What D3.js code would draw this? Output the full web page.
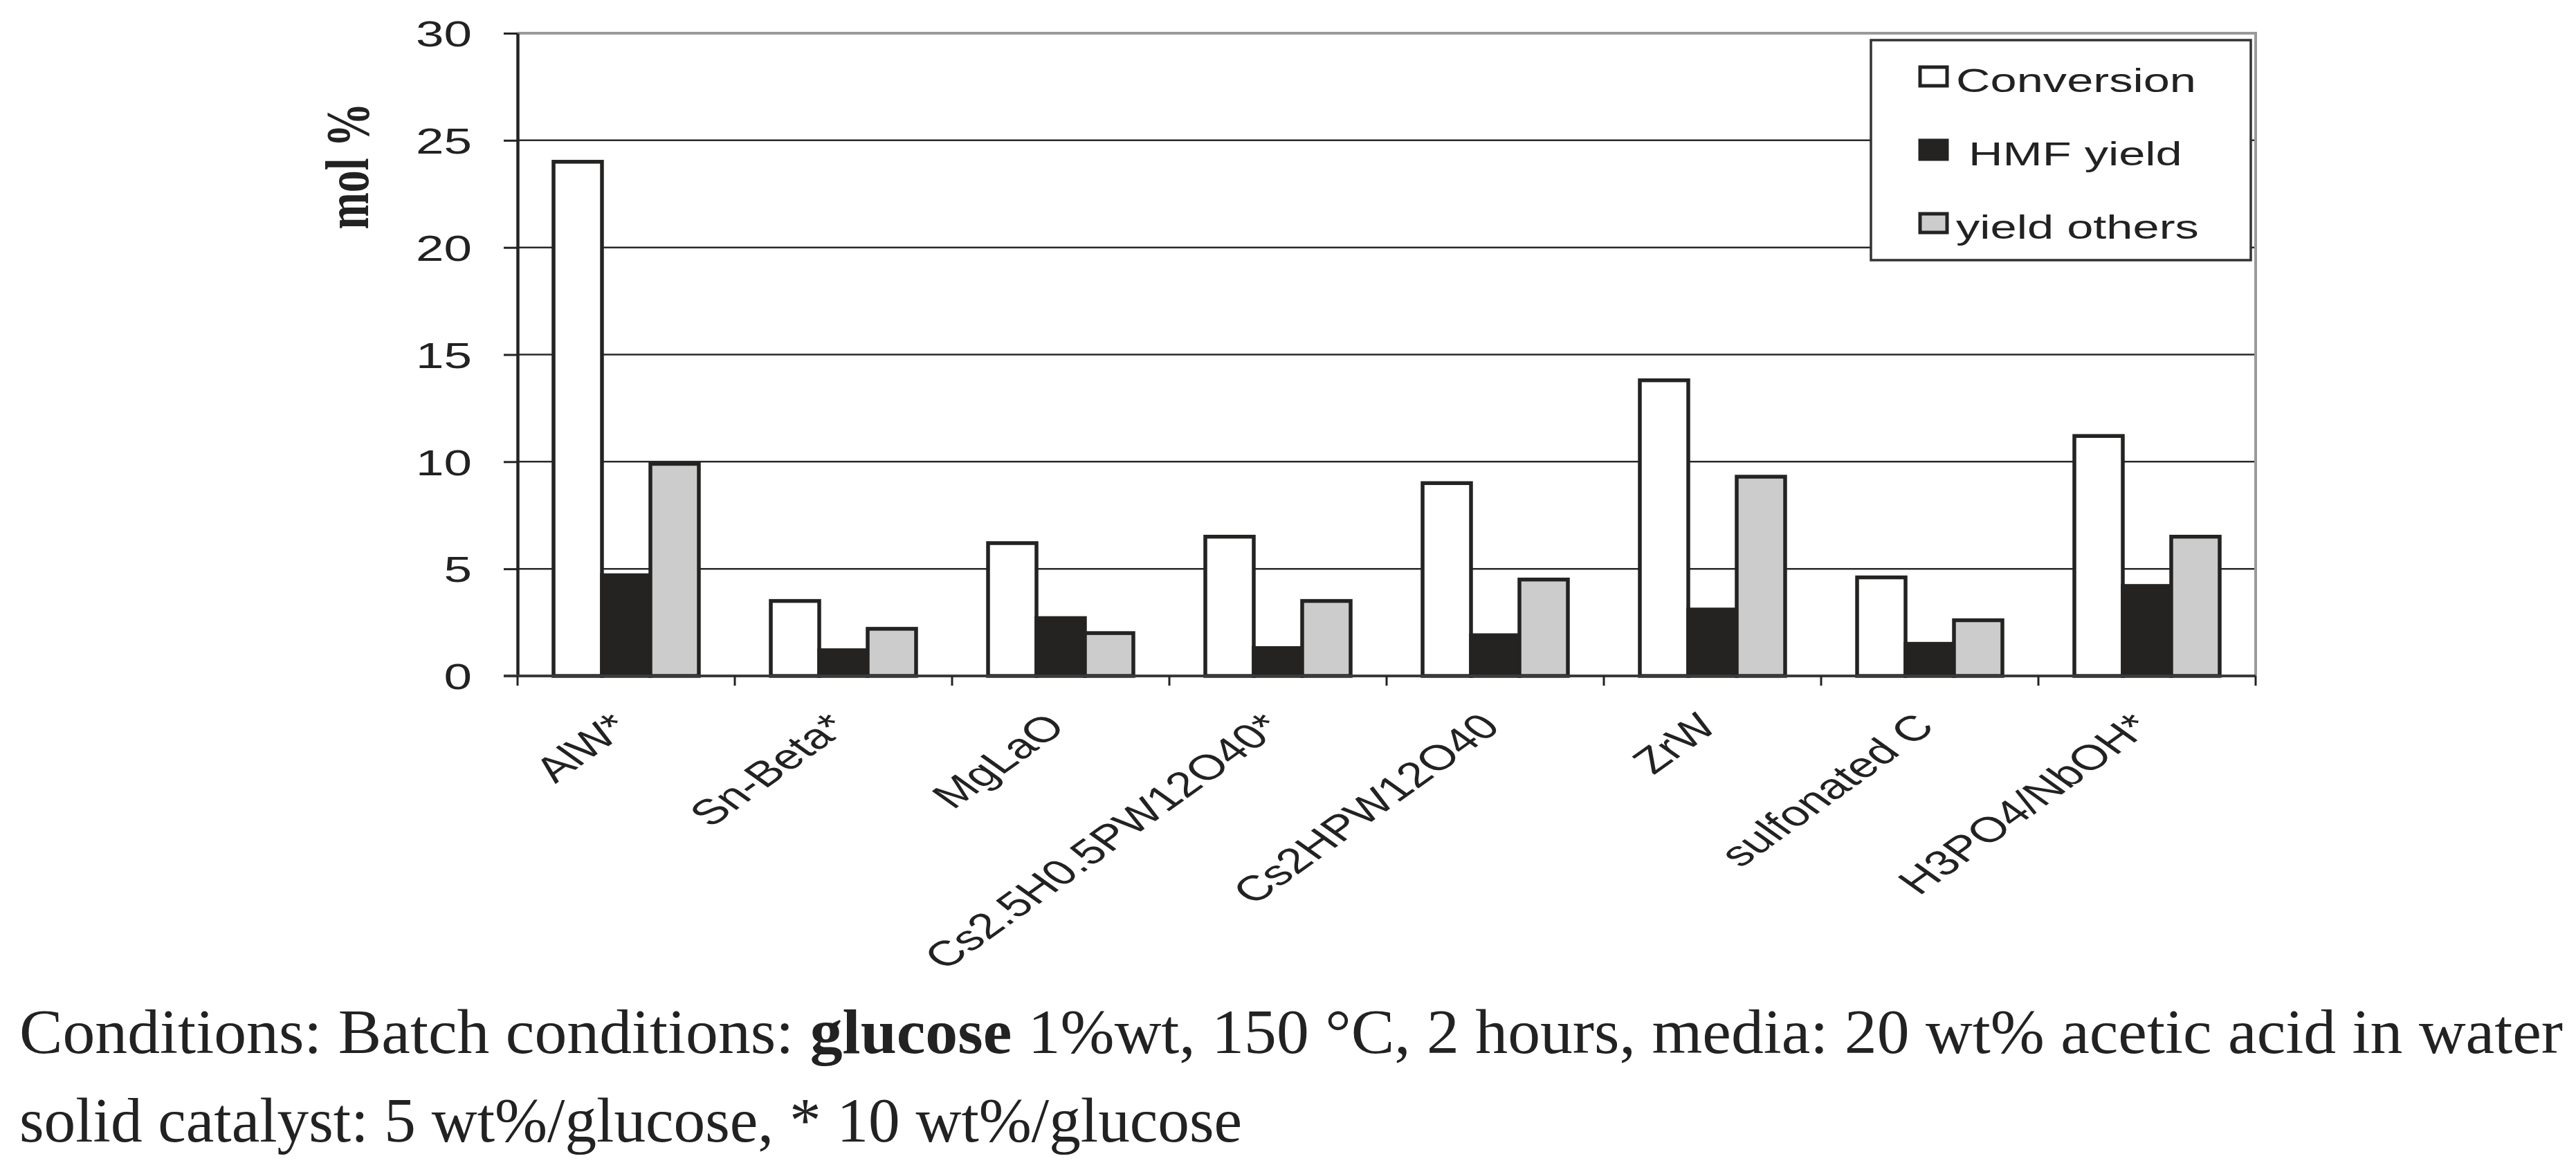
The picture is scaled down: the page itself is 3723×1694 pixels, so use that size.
<!DOCTYPE html>
<html>
<head>
<meta charset="utf-8">
<script src="https://cdn.jsdelivr.net/npm/d3@7"></script>
<style>
  html, body { margin: 0; padding: 0; background: #fff; }
  svg { display: block; }
</style>
</head>
<body>
<div id="chart"></div>
<script>
// datos
const categories = ['AlW*', 'Sn-Beta*', 'MgLaO', 'Cs2.5H0.5PW12O40*', 'Cs2HPW12O40', 'ZrW', 'sulfonated C', 'H3PO4/NbOH*'];
const seriesNames = ['Conversion', 'HMF yield', 'yield others'];
const conversion = [24.0, 3.5, 6.2, 6.5, 9.0, 13.8, 4.6, 11.2];
const hmfYield = [4.7, 1.2, 2.7, 1.3, 1.9, 3.1, 1.5, 4.2];
const yieldOthers = [9.9, 2.2, 2.0, 3.5, 4.5, 9.3, 2.6, 6.5];
const yTicks = [0, 5, 10, 15, 20, 25, 30];

const W = 3723, H = 1694;
const sx = 1.4; // el original esta estirado en horizontal
const plotL = 748, plotR = 3260, plotT = 48, plotB = 977;
const colors = { 'Conversion': '#ffffff', 'HMF yield': '#242322', 'yield others': '#cccccc' };
const sans = "'Liberation Sans', Arial, sans-serif";
const serif = "'Liberation Serif', 'Times New Roman', serif";

const svg = d3.select('#chart').append('svg')
    .attr('width', W)
    .attr('height', H);

const x0 = d3.scaleBand().domain(categories).range([plotL, plotR]).paddingInner(0).paddingOuter(0);
const x1 = d3.scaleBand().domain(seriesNames).range([0, x0.bandwidth()]).paddingOuter(0.743);
const y = d3.scaleLinear().domain([0, 30]).range([plotB, plotT]);

// lineas de la cuadricula
svg.append('g').selectAll('line')
    .data(yTicks.filter(d => d > 0 && d < 30))
    .enter().append('line')
    .attr('x1', plotL).attr('x2', plotR)
    .attr('y1', d => y(d)).attr('y2', d => y(d))
    .attr('stroke', '#2a2a2a').attr('stroke-width', 2.5);

// borde superior y derecho gris
svg.append('path')
    .attr('d', `M${plotL},${y(30)}H${plotR}V${y(0)}`)
    .attr('fill', 'none').attr('stroke', '#9a9a9a').attr('stroke-width', 4);

// barras
const rows = categories.map((c, i) => ({
    cat: c,
    vals: [
        { s: 'Conversion', v: conversion[i] },
        { s: 'HMF yield', v: hmfYield[i] },
        { s: 'yield others', v: yieldOthers[i] }
    ]
}));

svg.append('g').selectAll('g')
    .data(rows)
    .enter().append('g')
    .attr('transform', d => `translate(${x0(d.cat)},0)`)
    .selectAll('rect')
    .data(d => d.vals)
    .enter().append('rect')
    .attr('x', d => x1(d.s))
    .attr('y', d => y(d.v))
    .attr('width', x1.bandwidth())
    .attr('height', d => y(0) - y(d.v))
    .attr('fill', d => colors[d.s])
    .attr('stroke', '#242322')
    .attr('stroke-width', 5.5);

// eje Y
const yAxis = svg.append('g')
    .attr('transform', `translate(${plotL},0)`)
    .call(d3.axisLeft(y).tickValues(yTicks).tickSize(20).tickSizeOuter(0).tickPadding(0));
yAxis.select('.domain').attr('stroke', '#242322').attr('stroke-width', 4.5);
yAxis.selectAll('.tick line').attr('stroke', '#242322').attr('stroke-width', 3);
yAxis.selectAll('.tick text').remove();
yAxis.selectAll('.tick').append('text')
    .attr('transform', `translate(-66,0) scale(${sx},1)`)
    .attr('dy', '0.36em')
    .attr('text-anchor', 'end')
    .attr('fill', '#222')
    .style('font-family', sans)
    .style('font-size', '52px')
    .text(d => d);

// eje X
const bounds = categories.map(c => x0(c)).concat([plotR]);
const xAxis = svg.append('g');
xAxis.append('line')
    .attr('x1', plotL - 20).attr('x2', plotR)
    .attr('y1', y(0)).attr('y2', y(0))
    .attr('stroke', '#3a3a3a').attr('stroke-width', 4);
xAxis.selectAll('.xt')
    .data(bounds)
    .enter().append('line')
    .attr('class', 'xt')
    .attr('x1', d => d).attr('x2', d => d)
    .attr('y1', y(0)).attr('y2', y(0) + 14)
    .attr('stroke', '#242322').attr('stroke-width', 3);

// etiquetas giradas, como en el original
xAxis.selectAll('.xl')
    .data(categories)
    .enter().append('text')
    .attr('class', 'xl')
    .attr('transform', d => `translate(${x0(d) + x0.bandwidth() / 2 + 10},${y(0) + 76}) scale(${sx},1) rotate(-45)`)
    .attr('text-anchor', 'end')
    .attr('fill', '#222')
    .style('font-family', sans)
    .style('font-size', '51px')
    .text(d => d);

// titulo del eje Y
svg.append('text')
    .attr('transform', `translate(532,240) scale(${sx},1) rotate(-90)`)
    .attr('text-anchor', 'middle')
    .attr('fill', '#222')
    .style('font-family', serif)
    .style('font-weight', 'bold')
    .style('font-size', '64px')
    .text('mol %');

// leyenda
const lg = svg.append('g');
lg.append('rect')
    .attr('x', 2704).attr('y', 58)
    .attr('width', 549).attr('height', 318)
    .attr('fill', '#fff').attr('stroke', '#333').attr('stroke-width', 3.5);
const items = lg.selectAll('.it')
    .data(seriesNames)
    .enter().append('g')
    .attr('class', 'it')
    .attr('transform', (d, i) => `translate(2775,${111 + i * 106})`);
items.append('rect')
    .attr('x', 0).attr('y', -14)
    .attr('width', 39).attr('height', 27)
    .attr('fill', d => colors[d])
    .attr('stroke', '#242322').attr('stroke-width', 5);
items.append('text')
    .attr('transform', d => `translate(${d === 'HMF yield' ? 70 : 52},22) scale(${sx},1)`)
    .attr('fill', '#222')
    .style('font-family', sans)
    .style('font-size', '49px')
    .text(d => d);

// pie de figura
const cap1 = svg.append('text')
    .attr('x', 28).attr('y', 1522)
    .attr('textLength', 3676).attr('lengthAdjust', 'spacingAndGlyphs')
    .attr('fill', '#222')
    .style('font-family', serif)
    .style('font-size', '90px');
cap1.append('tspan').text('Conditions: Batch conditions: ');
cap1.append('tspan').style('font-weight', 'bold').text('glucose');
cap1.append('tspan').text(' 1%wt, 150 °C, 2 hours, media: 20 wt% acetic acid in water');

svg.append('text')
    .attr('x', 28).attr('y', 1650)
    .attr('textLength', 1767).attr('lengthAdjust', 'spacingAndGlyphs')
    .attr('fill', '#222')
    .style('font-family', serif)
    .style('font-size', '90px')
    .text('solid catalyst: 5 wt%/glucose, * 10 wt%/glucose');
</script>
</body>
</html>
